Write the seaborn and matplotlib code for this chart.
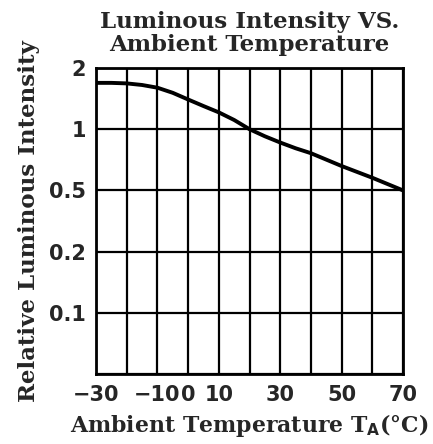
import numpy as np
import pandas as pd
import matplotlib
matplotlib.use("Agg")
import matplotlib.pyplot as plt
import seaborn as sns

# Data
temperature = [-30, -25, -20, -15, -10, -5, 0, 5, 10, 15, 20, 25, 30, 35, 40, 50, 60, 70]
rel_intensity = [1.69, 1.69, 1.68, 1.65, 1.60, 1.51, 1.40, 1.30, 1.21, 1.11, 1.00,
                 0.923, 0.86, 0.806, 0.762, 0.659, 0.577, 0.5]

x_ticks = [-30, -20, -10, 0, 10, 20, 30, 40, 50, 60, 70]
x_tick_labels = ["\u221230", "", "\u221210", "0", "10", "", "30", "", "50", "", "70"]
y_levels = [0.05, 0.1, 0.2, 0.5, 1, 2]
y_tick_labels = ["", "0.1", "0.2", "0.5", "1", "2"]

sns.set_style("white")
plt.rcParams['font.family'] = ['DejaVu Serif', 'DejaVu Sans']

df = pd.DataFrame({"Temperature": temperature, "Intensity": rel_intensity})

fig = plt.figure(figsize=(4.33, 4.44), dpi=100)
ax = fig.add_axes([96/433, 1-374/444, (403-96)/433, (374-68)/444])

lv = np.log(np.array(y_levels, dtype=float))
pos = np.arange(len(y_levels), dtype=float)

def fwd(v):
    v = np.clip(np.asarray(v, dtype=float), 1e-6, None)
    return np.interp(np.log(v), lv, pos)

def inv(p):
    return np.exp(np.interp(np.asarray(p, dtype=float), pos, lv))

ax.set_yscale('function', functions=(fwd, inv))

sns.lineplot(data=df, x="Temperature", y="Intensity", ax=ax, color="black",
             linewidth=2.8, zorder=5)

ax.set_xlim(-30, 70)
ax.set_ylim(0.05, 2)
ax.set_xticks(x_ticks)
ax.set_xticklabels(x_tick_labels)
ax.set_yticks(y_levels)
ax.set_yticklabels(y_tick_labels)
ax.minorticks_off()
ax.grid(True, color="black", linewidth=1.6)
ax.tick_params(axis="both", length=0, labelsize=15)
ax.tick_params(axis="y", pad=7)
ax.tick_params(axis="x", pad=8)
for lab in ax.get_xticklabels() + ax.get_yticklabels():
    lab.set_fontweight("bold")
    lab.set_family(["DejaVu Sans"])
for s in ax.spines.values():
    s.set_linewidth(2.0)
    s.set_color("black")

ax.set_title("Luminous Intensity VS.\nAmbient Temperature", fontsize=16.5,
             fontweight="bold", pad=12, linespacing=1.05)
ax.set_xlabel("Ambient Temperature T$_\\mathbf{A}$(\u00b0C)", fontsize=15.8,
              fontweight="bold", labelpad=5)
ax.set_ylabel("Relative Luminous Intensity", fontsize=16.5, fontweight="bold",
              labelpad=7)

fig.savefig("out.png", dpi=100, facecolor="white")
